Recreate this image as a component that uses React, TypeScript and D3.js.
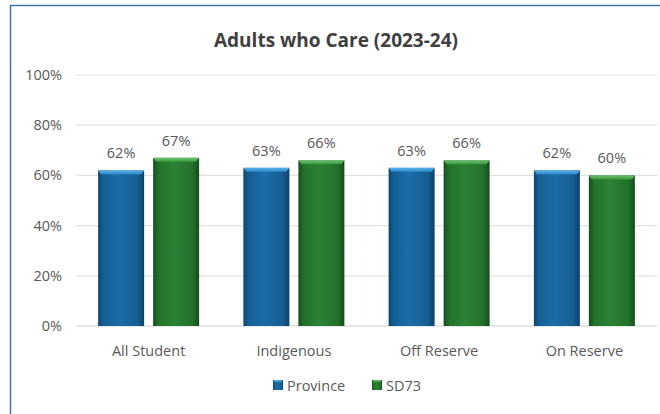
import React from "react";
import * as d3 from "d3";

const categories = ["All Student", "Indigenous", "Off Reserve", "On Reserve"];
const seriesNames = ["Province", "SD73"];
const province = [62, 63, 63, 62];
const sd73 = [67, 66, 66, 60];
const yTicks = [0, 20, 40, 60, 80, 100];
const title = "Adults who Care (2023-24)";

const W = 660, H = 414;
const FONT = "'Open Sans', 'Noto Sans', sans-serif";
const TXT = "#595959";
const FS = 14.5;

export default function App() {
  const x0 = d3.scaleBand().domain(categories).range([76, 657]).paddingInner(0).paddingOuter(0);
  const y = d3.scaleLinear().domain([0, 100]).range([326, 75]);
  const values = [province, sd73];
  const barW = 46;
  const gap = 9;
  const offsets = [-(gap / 2 + barW), gap / 2];
  const gradIds = ["gBlue", "gGreen"];
  const capIds = ["cBlue", "cGreen"];
  const legendX = [273, 372];

  return (
    <svg width={W} height={H} style={{ position: "fixed", left: 0, top: 0, display: "block" }}>
      <defs>
        <linearGradient id="gBlue" x1="0" x2="1" y1="0" y2="0">
          <stop offset="0" stopColor="#0d4670" />
          <stop offset="0.12" stopColor="#165f95" />
          <stop offset="0.45" stopColor="#1b6da7" />
          <stop offset="0.85" stopColor="#165e93" />
          <stop offset="1" stopColor="#0c4169" />
        </linearGradient>
        <linearGradient id="gGreen" x1="0" x2="1" y1="0" y2="0">
          <stop offset="0" stopColor="#184f1e" />
          <stop offset="0.12" stopColor="#22722b" />
          <stop offset="0.45" stopColor="#2a8234" />
          <stop offset="0.85" stopColor="#22722b" />
          <stop offset="1" stopColor="#174c1c" />
        </linearGradient>
        <linearGradient id="cBlue" x1="0" x2="0" y1="0" y2="1">
          <stop offset="0" stopColor="#5db2ea" />
          <stop offset="1" stopColor="#2a86c6" />
        </linearGradient>
        <linearGradient id="cGreen" x1="0" x2="0" y1="0" y2="1">
          <stop offset="0" stopColor="#6cc26f" />
          <stop offset="1" stopColor="#39963f" />
        </linearGradient>
      </defs>
      <rect x={0} y={0} width={W} height={H} fill="#ffffff" />
      <path d={`M10.5,${H} L10.5,5.5 L${W},5.5`} fill="none" stroke="#3f78a8" strokeWidth={1.5} />
      <text x={336} y={47} textAnchor="middle" fontFamily={FONT} fontSize={19} fontWeight={700} fill="#404040">
        {title}
      </text>
      {yTicks.map((t) => (
        <g key={t}>
          <line x1={76} x2={657} y1={y(t)} y2={y(t)} stroke={t === 0 ? "#d0d0d0" : "#e3e3e3"} strokeWidth={1.2} />
          <text x={62} y={y(t) + 5} textAnchor="end" fontFamily={FONT} fontSize={FS} fill={TXT}>
            {t}%
          </text>
        </g>
      ))}
      {categories.map((c, i) => {
        const cx = (x0(c) as number) + x0.bandwidth() / 2;
        return (
          <g key={c}>
            {values.map((vals, s) => {
              const bx = cx + offsets[s];
              const by = y(vals[i]);
              const bh = y(0) - by;
              return (
                <g key={s}>
                  <rect x={bx} y={by} width={barW} height={bh} fill={`url(#${gradIds[s]})`} />
                  <path
                    d={`M${bx},${by} L${bx + barW},${by} L${bx + barW - 3},${by + 4} L${bx + 3},${by + 4} Z`}
                    fill={`url(#${capIds[s]})`}
                  />
                  <text x={bx + barW / 2} y={by - 12} textAnchor="middle" fontFamily={FONT} fontSize={FS} fill={TXT}>
                    {vals[i]}%
                  </text>
                </g>
              );
            })}
            <text x={cx} y={356} textAnchor="middle" fontFamily={FONT} fontSize={FS} fill={TXT}>
              {c}
            </text>
          </g>
        );
      })}
      {seriesNames.map((n, s) => (
        <g key={n}>
          <rect x={legendX[s]} y={380} width={10} height={10} fill={`url(#${gradIds[s]})`} />
          <rect x={legendX[s] + 1} y={380} width={8} height={2} fill={`url(#${capIds[s]})`} />
          <text x={legendX[s] + 14} y={390.5} fontFamily={FONT} fontSize={FS} fill={TXT}>
            {n}
          </text>
        </g>
      ))}
    </svg>
  );
}
